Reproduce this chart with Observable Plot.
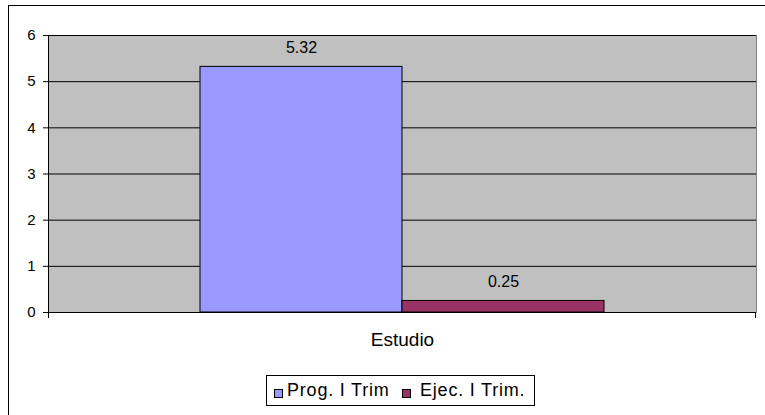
<!DOCTYPE html>
<html><head><meta charset="utf-8">
<script src="https://cdn.jsdelivr.net/npm/d3@7"></script>
<script src="https://cdn.jsdelivr.net/npm/@observablehq/plot@0.6"></script>
<style>
html,body{margin:0;padding:0;background:#fff;overflow:hidden;}
body{font-family:"Liberation Sans",Arial,sans-serif;}
#wrap{position:relative;width:765px;height:415px;overflow:hidden;}
#outer{position:absolute;left:8px;top:5px;width:800px;height:450px;border:1px solid #000;box-sizing:border-box;pointer-events:none;}
#chart{position:absolute;left:0;top:0;}
#legend{position:absolute;left:266px;top:375px;width:269px;height:31px;border:1px solid #000;box-sizing:border-box;background:#fff;font-size:18px;color:#000;white-space:nowrap;letter-spacing:0.8px;}
#legend .sw{position:absolute;top:13px;width:9px;height:9px;border:1px solid #000;box-sizing:border-box;}
#legend .tx{position:absolute;top:4px;line-height:20px;}
</style>
</head><body>
<div id="wrap"><div id="chart"></div><div id="outer"></div><div id="legend"></div></div>
<script>
const categories = ["Estudio"];
const series = ["Prog. I Trim", "Ejec. I Trim."];
const values = [5.32, 0.25];
const colors = ["#9999FF", "#993366"];
const yTicks = [0, 1, 2, 3, 4, 5, 6];

const data = series.map((s, i) => ({category: categories[0], series: s, value: values[i]}));

// axis lines (left value axis, category boundary ticks) drawn from the plot's own dimensions
function axisLines(index, scales, values, dim) {
  const g = d3.create("svg:g").attr("stroke", "#000").attr("stroke-width", 1);
  const x0 = dim.marginLeft + 0.5, x1 = dim.width - dim.marginRight - 0.5;
  const y0 = dim.marginTop, y1 = dim.height - dim.marginBottom;
  g.append("line").attr("x1", x0).attr("x2", x0).attr("y1", y0).attr("y2", y1 + 6);
  g.append("line").attr("x1", x1).attr("x2", x1).attr("y1", y1).attr("y2", y1 + 6);
  return g.node();
}

const chart = Plot.plot({
  width: 765,
  height: 415,
  marginLeft: 48,
  marginRight: 9,
  marginTop: 35,
  marginBottom: 103,
  style: {fontFamily: '"Liberation Sans", Arial, sans-serif', fontSize: "15px", color: "#000", background: "transparent"},
  fx: {domain: categories, padding: 0, label: null, axis: null},
  x: {domain: series, paddingInner: 0, paddingOuter: 0.75, axis: null},
  y: {domain: [0, 6], label: null, axis: null},
  color: {domain: series, range: colors},
  marks: [
    Plot.frame({fill: "#C0C0C0", stroke: "#808080"}),
    Plot.ruleY(yTicks, {stroke: "#000"}),
    Plot.barY(data, {fx: "category", x: "series", y: "value", fill: "series", stroke: "#000", strokeWidth: 1}),
    Plot.text(data, {fx: "category", x: "series", y: "value", text: d => d.value.toFixed(2), dy: -19, fontSize: 16}),
    Plot.ruleY([0], {stroke: "#000"}),
    axisLines,
    Plot.axisY(yTicks, {tickSize: 5, tickPadding: 8, label: null, fontSize: 15}),
    Plot.axisFx({anchor: "bottom", tickSize: 0, tickPadding: 20, label: null, fontSize: 19})
  ]
});
document.getElementById("chart").appendChild(chart);

const lg = document.getElementById("legend");
const swLeft = [7, 135], txLeft = [20, 153];
series.forEach((s, i) => {
  const sw = document.createElement("span");
  sw.className = "sw";
  sw.style.left = swLeft[i] + "px";
  sw.style.background = colors[i];
  lg.appendChild(sw);
  const tx = document.createElement("span");
  tx.className = "tx";
  tx.style.left = txLeft[i] + "px";
  tx.textContent = s;
  lg.appendChild(tx);
});
</script>
</body></html>
